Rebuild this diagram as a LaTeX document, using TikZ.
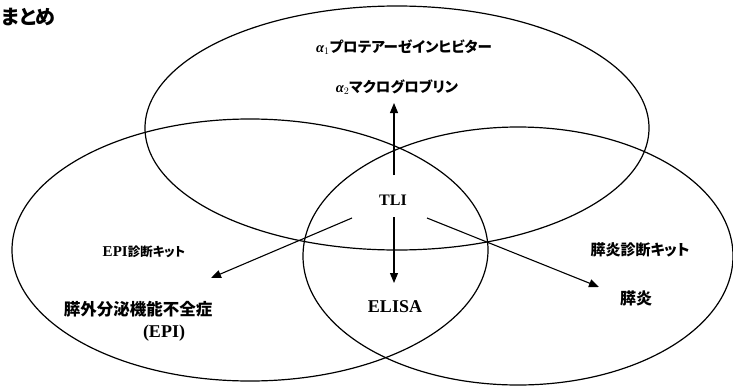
\documentclass[tikz,border=0pt]{standalone}
\usepackage{fontspec}
\setmainfont{Liberation Serif}
\newfontfamily\cjk[RawFeature={+palt}]{Noto Sans CJK JP}
\newfontfamily\lat{Liberation Serif}
\usetikzlibrary{arrows.meta,shapes.geometric}
\begin{document}
\begin{tikzpicture}[x=1pt,y=-1pt,
  set/.style={draw,ellipse,line width=1.2pt,inner sep=0pt},
  lbl/.style={inner sep=0pt,font=\bfseries},
  arr/.style={line width=1.1pt,-{Triangle[length=10pt,width=8pt]}}]
\useasboundingbox (0,0) rectangle (733,388);
% sets
\node[set,minimum width=504pt,minimum height=244pt] (top) at (397,128) {};
\node[set,minimum width=476pt,minimum height=262pt] (left) at (250,250) {};
\node[set,minimum width=430pt,minimum height=258pt] (right) at (518,256) {};
% title
\node[lbl,anchor=west] (title) at (1,17) {\cjk\fontsize{20}{24}\selectfont まとめ};
% labels
\node[lbl] (a1) at (404,47) {\fontsize{14.5}{17}\selectfont {\lat\itshape α}$_{1}${\cjk プロテアーゼインヒビター}};
\node[lbl] (a2) at (397,87) {\fontsize{14.5}{17}\selectfont {\lat\itshape α}$_{2}${\cjk マクログロブリン}};
\node[lbl] (tli) at (393,200) {\lat\fontsize{16}{18}\selectfont TLI};
\node[lbl] (elisa) at (395,307) {\lat\fontsize{18}{20}\selectfont ELISA};
\node[lbl] (epikit) at (144,252) {\fontsize{12.5}{15}\selectfont {\lat\fontsize{15}{18}\selectfont EPI}{\cjk 診断キット}};
\node[lbl] (epi) at (138,309) {\cjk\fontsize{16.5}{19}\selectfont 膵外分泌機能不全症};
\node[lbl] (epiab) at (164,333) {\lat\fontsize{18}{20}\selectfont (EPI)};
\node[lbl] (pkit) at (640,250) {\cjk\fontsize{15}{18}\selectfont 膵炎診断キット};
\node[lbl] (pan) at (636,298) {\cjk\fontsize{16}{18}\selectfont 膵炎};
% arrow ends
\coordinate (uS) at (394,175);
\coordinate (uT) at (394,103);
\coordinate (dS) at (394,217);
\coordinate (dT) at (394,283);
\coordinate (lS) at (352,218);
\coordinate (lT) at (211,278);
\coordinate (rS) at (427,218);
\coordinate (rT) at (599,287);
\draw[arr] (uS) -- (uT);
\draw[arr] (dS) -- (dT);
\draw[arr] (lS) -- (lT);
\draw[arr] (rS) -- (rT);
\end{tikzpicture}
\end{document}
